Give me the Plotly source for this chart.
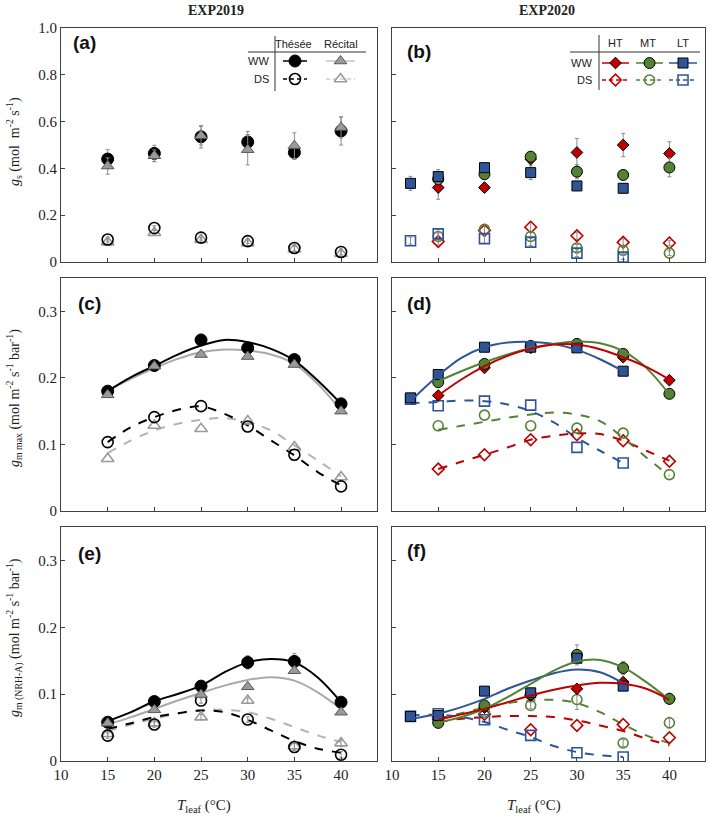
import plotly.graph_objects as go

W, H = 709, 818

# ---------------- data ----------------
T19 = [15, 20, 25, 30, 35, 40]
T20 = [15, 20, 25, 30, 35, 40]
T20_LT = [12, 15, 20, 25, 30, 35]
TC19 = [15, 17.5, 20, 22.5, 25, 27.5, 30, 32.5, 35, 37.5, 40]
TC_LT = [12, 15, 17.5, 20, 22.5, 25, 27.5, 30, 32.5, 35]

# (a) gs EXP2019
gs_thesee_ww = [0.44, 0.464, 0.535, 0.513, 0.468, 0.56]
gs_thesee_ww_err = [0.04, 0.035, 0.048, 0.045, 0.03, 0.06]
gs_recital_ww = [0.41, 0.454, 0.54, 0.48, 0.497, 0.575]
gs_recital_ww_err = [0.035, 0.025, 0.04, 0.065, 0.055, 0.045]
gs_thesee_ds = [0.096, 0.145, 0.104, 0.089, 0.06, 0.043]
gs_recital_ds = [0.085, 0.125, 0.095, 0.08, 0.055, 0.035]
gs_ds_err = [0.01, 0.01, 0.01, 0.01, 0.012, 0.012]

# (b) gs EXP2020
gs_ht_ww = [0.318, 0.318, 0.44, 0.468, 0.5, 0.464]
gs_ht_ww_err = [0.05, 0.01, 0.02, 0.06, 0.05, 0.05]
gs_mt_ww = [0.355, 0.375, 0.45, 0.386, 0.372, 0.404]
gs_mt_ww_err = [0.02, 0.02, 0.02, 0.03, 0.02, 0.04]
gs_lt_ww = [0.336, 0.365, 0.403, 0.382, 0.325, 0.315]
gs_lt_ww_err = [0.03, 0.03, 0.02, 0.03, 0.02, 0.02]
gs_ht_ds = [0.088, 0.135, 0.149, 0.112, 0.084, 0.081]
gs_mt_ds = [0.109, 0.14, 0.109, 0.06, 0.05, 0.038]
gs_lt_ds = [0.091, 0.12, 0.10, 0.085, 0.038, 0.021]
gs20_ds_err = [0.015, 0.02, 0.02, 0.015, 0.015, 0.01]

# (c) gm max EXP2019
gmax_thesee_ww = [0.18, 0.2185, 0.257, 0.245, 0.2275, 0.161]
gmax_recital_ww = [0.1745, 0.2175, 0.235, 0.232, 0.22, 0.15]
gmax_thesee_ds = [0.1035, 0.141, 0.1575, 0.127, 0.0845, 0.037]
gmax_recital_ds = [0.0785, 0.1285, 0.1235, 0.135, 0.096, 0.051]
fit_gmax_thesee_ww = [0.18, 0.201, 0.218, 0.235, 0.2485, 0.257, 0.2535, 0.2435, 0.226, 0.196, 0.161]
fit_gmax_recital_ww = [0.181, 0.1985, 0.2145, 0.2285, 0.2385, 0.2425, 0.241, 0.235, 0.221, 0.191, 0.151]
fit_gmax_thesee_ds = [0.1035, 0.126, 0.141, 0.152, 0.157, 0.146, 0.1285, 0.106, 0.0835, 0.0585, 0.0385]
fit_gmax_recital_ds = [0.087, 0.106, 0.121, 0.131, 0.137, 0.1395, 0.1335, 0.121, 0.0985, 0.076, 0.052]

# (d) gm max EXP2020
gmax_ht_ww = [0.1735, 0.215, 0.245, 0.248, 0.231, 0.1965]
gmax_mt_ww = [0.1935, 0.221, 0.248, 0.251, 0.236, 0.176]
gmax_lt_ww = [0.170, 0.205, 0.246, 0.246, 0.245, 0.21]
gmax_ht_ds = [0.063, 0.0845, 0.107, 0.1145, 0.1055, 0.0746]
gmax_mt_ds = [0.128, 0.144, 0.128, 0.1245, 0.117, 0.0547]
gmax_lt_ds = [0.168, 0.158, 0.165, 0.159, 0.0955, 0.072]
fit_gmax_ht_ww = [0.1735, 0.1975, 0.2175, 0.233, 0.244, 0.25, 0.25, 0.243, 0.231, 0.2165, 0.1975]
fit_gmax_mt_ww = [0.195, 0.21, 0.2235, 0.235, 0.245, 0.251, 0.2545, 0.252, 0.24, 0.215, 0.175]
fit_gmax_lt_ww = [0.165, 0.2035, 0.23, 0.246, 0.253, 0.254, 0.251, 0.242, 0.228, 0.21]
fit_gmax_ht_ds = [0.063, 0.074, 0.0845, 0.0955, 0.107, 0.113, 0.1165, 0.1155, 0.1055, 0.0905, 0.0756]
fit_gmax_mt_ds = [0.122, 0.128, 0.134, 0.14, 0.145, 0.148, 0.145, 0.135, 0.11, 0.0805, 0.053]
fit_gmax_lt_ds = [0.162, 0.1637, 0.166, 0.165, 0.16, 0.15, 0.133, 0.11, 0.0905, 0.072]

# (e) gm NRH-A EXP2019
gnrh_thesee_ww = [0.058, 0.089, 0.112, 0.1475, 0.149, 0.088]
gnrh_thesee_ww_err = [0.004, 0.005, 0.005, 0.01, 0.012, 0.005]
gnrh_recital_ww = [0.0566, 0.0765, 0.0994, 0.111, 0.135, 0.073]
gnrh_thesee_ds = [0.038, 0.0546, 0.0904, 0.062, 0.021, 0.0094]
gnrh_recital_ds = [0.0407, 0.0566, 0.0656, 0.0904, 0.0224, 0.0268]
gnrh_ds_err = [0.004, 0.004, 0.004, 0.004, 0.005, 0.005]
fit_gnrh_thesee_ww = [0.0596, 0.073, 0.0894, 0.1003, 0.1128, 0.1326, 0.1475, 0.1525, 0.1475, 0.125, 0.088]
fit_gnrh_recital_ww = [0.0546, 0.0656, 0.078, 0.0904, 0.1018, 0.1128, 0.1212, 0.1252, 0.1202, 0.1028, 0.078]
fit_gnrh_thesee_ds = [0.048, 0.0566, 0.0656, 0.0715, 0.0755, 0.073, 0.0616, 0.0457, 0.0298, 0.0184, 0.0124]
fit_gnrh_recital_ds = [0.0447, 0.0546, 0.0631, 0.0705, 0.0755, 0.0765, 0.073, 0.0631, 0.0507, 0.0383, 0.0283]

# (f) gm NRH-A EXP2020
gnrh_ht_ww = [0.062, 0.08, 0.098, 0.108, 0.118, 0.093]
gnrh_mt_ww = [0.057, 0.083, 0.1, 0.1587, 0.139, 0.093]
gnrh_mt_ww_err = [0.004, 0.004, 0.004, 0.015, 0.01, 0.005]
gnrh_lt_ww = [0.0667, 0.068, 0.1045, 0.102, 0.1537, 0.112]
gnrh_ht_ds = [0.0657, 0.07, 0.0468, 0.0532, 0.0547, 0.0348]
gnrh_mt_ds = [0.06, 0.073, 0.083, 0.092, 0.0269, 0.0572]
gnrh_mt_ds_err = [0.004, 0.004, 0.005, 0.015, 0.005, 0.008]
gnrh_lt_ds = [0.0667, 0.0707, 0.0617, 0.0383, 0.0124, 0.006]
fit_gnrh_ht_ww = [0.0617, 0.0697, 0.078, 0.088, 0.098, 0.1065, 0.113, 0.117, 0.1154, 0.108, 0.0915]
fit_gnrh_mt_ww = [0.0572, 0.0657, 0.078, 0.0955, 0.1154, 0.1353, 0.1488, 0.1512, 0.14, 0.118, 0.0915]
fit_gnrh_lt_ww = [0.063, 0.0707, 0.0806, 0.093, 0.108, 0.1204, 0.1313, 0.1368, 0.1328, 0.1164]
fit_gnrh_ht_ds = [0.0582, 0.0632, 0.0657, 0.0672, 0.0672, 0.0657, 0.0607, 0.0532, 0.0448, 0.0333, 0.0234]
fit_gnrh_mt_ds = [0.0632, 0.0716, 0.0796, 0.0866, 0.0905, 0.0915, 0.0866, 0.0731, 0.0547, 0.0383, 0.0269]
fit_gnrh_lt_ds = [0.068, 0.0692, 0.0657, 0.0582, 0.0468, 0.0358, 0.0224, 0.0134, 0.0085, 0.006]

x_ticks = [10, 15, 20, 25, 30, 35, 40]
y_ticks_gs = [0, 0.2, 0.4, 0.6, 0.8, 1.0]
y_ticklabels_gs = ["0", "0.2", "0.4", "0.6", "0.8", "1.0"]
y_ticks_gm = [0, 0.1, 0.2, 0.3]
y_ticklabels_gm = ["0", "0.1", "0.2", "0.3"]

# ---------------- styles ----------------
BLACK = "#000000"
GRAY_F = "#9a9a9a"
GRAY_L = "#a9a9a9"
GRAY_DS = "#b3b3b3"
RED = "#C00000"
GREEN = "#548235"
BLUE = "#2F5597"
ERR = "#8c8c8c"
SERIF = "Liberation Serif, Times New Roman, serif"
SANS = "Liberation Sans, Arial, sans-serif"


def px(x):
    return x / W


def py(y):
    return 1 - y / H


fig = go.Figure()

# panel geometry in pixels
cols = [(61, 377), (392, 705)]
rows = [(28, 262), (278, 511), (527, 761)]

panel_axes = {}
k = 0
for r, (yt, yb) in enumerate(rows):
    for c, (xl, xr) in enumerate(cols):
        k += 1
        xa = "xaxis" if k == 1 else f"xaxis{k}"
        ya = "yaxis" if k == 1 else f"yaxis{k}"
        xs = "x" if k == 1 else f"x{k}"
        ys = "y" if k == 1 else f"y{k}"
        panel_axes[(r, c)] = (xs, ys)
        fig.update_layout({
            xa: dict(domain=[px(xl), px(xr)], anchor=ys, range=[10, 43.85],
                     tickvals=x_ticks, ticks="inside", ticklen=4, tickcolor="#404040",
                     showticklabels=(r == 2), showline=True, linecolor="#404040",
                     linewidth=1, mirror=True, showgrid=False, zeroline=False,
                     automargin=False,
                     tickfont=dict(family=SERIF, size=15, color="#222")),
            ya: dict(domain=[py(yb), py(yt)], anchor=xs,
                     range=[0, 1] if r == 0 else [0, 0.35],
                     tickvals=y_ticks_gs if r == 0 else y_ticks_gm,
                     ticktext=y_ticklabels_gs if r == 0 else y_ticklabels_gm,
                     ticks="inside", ticklen=4, tickcolor="#404040",
                     showticklabels=(c == 0), showline=True, linecolor="#404040",
                     linewidth=1, mirror=True, showgrid=False, zeroline=False,
                     automargin=False,
                     tickfont=dict(family=SERIF, size=15, color="#222")),
        })

MK = {
    "thesee_ww": dict(symbol="circle", size=12, color=BLACK, line=dict(color=BLACK, width=1)),
    "recital_ww": dict(symbol="triangle-up", size=11, color=GRAY_F, line=dict(color="#595959", width=1)),
    "thesee_ds": dict(symbol="circle-open", size=11, color=BLACK, line=dict(color=BLACK, width=1.6)),
    "recital_ds": dict(symbol="triangle-up-open", size=11, color=GRAY_F, line=dict(color=GRAY_F, width=1.6)),
    "ht_ww": dict(symbol="diamond", size=9, color=RED, line=dict(color=BLACK, width=1)),
    "mt_ww": dict(symbol="circle", size=11, color=GREEN, line=dict(color=BLACK, width=1)),
    "lt_ww": dict(symbol="square", size=10, color=BLUE, line=dict(color=BLACK, width=1)),
    "ht_ds": dict(symbol="diamond-open", size=9, color=RED, line=dict(color=RED, width=1.6)),
    "mt_ds": dict(symbol="circle-open", size=10, color=GREEN, line=dict(color=GREEN, width=1.6)),
    "lt_ds": dict(symbol="square-open", size=10, color=BLUE, line=dict(color=BLUE, width=1.6)),
}


def pts(rc, x, y, key, err=None):
    xs, ys = panel_axes[rc]
    kw = {}
    if err is not None:
        kw["error_y"] = dict(type="data", array=err, color=ERR, thickness=1, width=2)
    fig.add_trace(go.Scatter(x=x, y=y, mode="markers", marker=MK[key], xaxis=xs, yaxis=ys,
                             showlegend=False, hoverinfo="skip", **kw))


def fit(rc, x, y, color, dash):
    xs, ys = panel_axes[rc]
    fig.add_trace(go.Scatter(x=x, y=y, mode="lines", line=dict(color=color, width=2, dash=dash,
                                                                shape="spline", smoothing=1.0),
                             xaxis=xs, yaxis=ys, showlegend=False, hoverinfo="skip"))


# (a)
pts((0, 0), T19, gs_recital_ds, "recital_ds", gs_ds_err)
pts((0, 0), T19, gs_thesee_ds, "thesee_ds", gs_ds_err)
pts((0, 0), T19, gs_thesee_ww, "thesee_ww", gs_thesee_ww_err)
pts((0, 0), T19, gs_recital_ww, "recital_ww", gs_recital_ww_err)

# (b)
pts((0, 1), T20, gs_ht_ds, "ht_ds", gs20_ds_err)
pts((0, 1), T20, gs_mt_ds, "mt_ds", gs20_ds_err)
pts((0, 1), T20_LT, gs_lt_ds, "lt_ds", gs20_ds_err)
pts((0, 1), T20, gs_ht_ww, "ht_ww", gs_ht_ww_err)
pts((0, 1), T20, gs_mt_ww, "mt_ww", gs_mt_ww_err)
pts((0, 1), T20_LT, gs_lt_ww, "lt_ww", gs_lt_ww_err)

# (c)
fit((1, 0), TC19, fit_gmax_recital_ds, GRAY_DS, "dash")
fit((1, 0), TC19, fit_gmax_thesee_ds, BLACK, "dash")
fit((1, 0), TC19, fit_gmax_recital_ww, GRAY_L, "solid")
fit((1, 0), TC19, fit_gmax_thesee_ww, BLACK, "solid")
pts((1, 0), T19, gmax_recital_ds, "recital_ds")
pts((1, 0), T19, gmax_thesee_ds, "thesee_ds")
pts((1, 0), T19, gmax_thesee_ww, "thesee_ww")
pts((1, 0), T19, gmax_recital_ww, "recital_ww")

# (d)
fit((1, 1), TC19, fit_gmax_ht_ds, RED, "dash")
fit((1, 1), TC19, fit_gmax_mt_ds, GREEN, "dash")
fit((1, 1), TC_LT, fit_gmax_lt_ds, BLUE, "dash")
pts((1, 1), T20, gmax_ht_ds, "ht_ds")
pts((1, 1), T20, gmax_mt_ds, "mt_ds")
pts((1, 1), T20_LT, gmax_lt_ds, "lt_ds")
pts((1, 1), T20, gmax_ht_ww, "ht_ww")
pts((1, 1), T20, gmax_mt_ww, "mt_ww")
pts((1, 1), T20_LT, gmax_lt_ww, "lt_ww")
fit((1, 1), TC_LT, fit_gmax_lt_ww, BLUE, "solid")
fit((1, 1), TC19, fit_gmax_mt_ww, GREEN, "solid")
fit((1, 1), TC19, fit_gmax_ht_ww, RED, "solid")

# (e)
fit((2, 0), TC19, fit_gnrh_recital_ds, GRAY_DS, "dash")
fit((2, 0), TC19, fit_gnrh_thesee_ds, BLACK, "dash")
fit((2, 0), TC19, fit_gnrh_recital_ww, GRAY_L, "solid")
fit((2, 0), TC19, fit_gnrh_thesee_ww, BLACK, "solid")
pts((2, 0), T19, gnrh_recital_ds, "recital_ds", gnrh_ds_err)
pts((2, 0), T19, gnrh_thesee_ds, "thesee_ds", gnrh_ds_err)
pts((2, 0), T19, gnrh_thesee_ww, "thesee_ww", gnrh_thesee_ww_err)
pts((2, 0), T19, gnrh_recital_ww, "recital_ww")

# (f)
fit((2, 1), TC19, fit_gnrh_ht_ds, RED, "dash")
fit((2, 1), TC19, fit_gnrh_mt_ds, GREEN, "dash")
fit((2, 1), TC_LT, fit_gnrh_lt_ds, BLUE, "dash")
pts((2, 1), T20, gnrh_ht_ds, "ht_ds")
pts((2, 1), T20, gnrh_mt_ds, "mt_ds", gnrh_mt_ds_err)
pts((2, 1), T20_LT, gnrh_lt_ds, "lt_ds")
pts((2, 1), T20, gnrh_ht_ww, "ht_ww")
pts((2, 1), T20, gnrh_mt_ww, "mt_ww", gnrh_mt_ww_err)
pts((2, 1), T20_LT, gnrh_lt_ww, "lt_ww")
fit((2, 1), TC_LT, fit_gnrh_lt_ww, BLUE, "solid")
fit((2, 1), TC19, fit_gnrh_mt_ww, GREEN, "solid")
fit((2, 1), TC19, fit_gnrh_ht_ww, RED, "solid")

# ---------------- overlay axis in pixel units for legend glyphs ----------------
fig.update_layout(
    xaxis7=dict(domain=[0, 1], range=[0, W], visible=False, fixedrange=True, anchor="y7",
                automargin=False),
    yaxis7=dict(domain=[0, 1], range=[H, 0], visible=False, fixedrange=True, anchor="x7",
                automargin=False),
)


def glyph(x0, x1, y, color, dash, key, lw=1.5):
    fig.add_trace(go.Scatter(x=[x0, x1], y=[y, y], mode="lines",
                             line=dict(color=color, width=lw, dash=dash),
                             xaxis="x7", yaxis="y7", showlegend=False, hoverinfo="skip"))
    fig.add_trace(go.Scatter(x=[(x0 + x1) / 2], y=[y], mode="markers", marker=MK[key],
                             xaxis="x7", yaxis="y7", showlegend=False, hoverinfo="skip"))


# legend (a)
glyph(283, 307, 61, BLACK, "solid", "thesee_ww")
glyph(326, 355, 61, GRAY_L, "solid", "recital_ww", 1)
glyph(283, 307, 79, BLACK, "4px,3px", "thesee_ds")
glyph(326, 355, 79, GRAY_DS, "4px,3px", "recital_ds", 1)
# legend (b)
glyph(602, 629, 63, RED, "solid", "ht_ww")
glyph(636, 663, 63, GREEN, "solid", "mt_ww")
glyph(669, 697, 63, BLUE, "solid", "lt_ww")
glyph(602, 629, 80, RED, "4px,3px", "ht_ds")
glyph(636, 663, 80, GREEN, "4px,3px", "mt_ds")
glyph(669, 697, 80, BLUE, "4px,3px", "lt_ds")

shapes = [
    dict(type="line", xref="paper", yref="paper", x0=px(275), x1=px(275), y0=py(36), y1=py(91),
         line=dict(color="#333", width=1)),
    dict(type="line", xref="paper", yref="paper", x0=px(248), x1=px(366), y0=py(52), y1=py(52),
         line=dict(color="#333", width=1)),
    dict(type="line", xref="paper", yref="paper", x0=px(599), x1=px(599), y0=py(35), y1=py(90),
         line=dict(color="#333", width=1)),
    dict(type="line", xref="paper", yref="paper", x0=px(570), x1=px(700), y0=py(52), y1=py(52),
         line=dict(color="#333", width=1)),
]

ann = []


def text(x, y, s, size, family, xanchor="center", angle=0, color="#222"):
    ann.append(dict(x=px(x), y=py(y), xref="paper", yref="paper", text=s, showarrow=False,
                    xanchor=xanchor, yanchor="middle", textangle=angle,
                    font=dict(family=family, size=size, color=color)))


text(216, 10, "<b>EXP2019</b>", 14, SERIF)
text(547, 10, "<b>EXP2020</b>", 14, SERIF)

text(293, 44, "Thésée", 11, SANS)
text(341, 44, "Récital", 11, SANS)
text(271, 61, "WW", 11, SANS, "right")
text(271, 79, "DS", 11, SANS, "right")
text(615, 43, "HT", 11, SANS)
text(648, 43, "MT", 11, SANS)
text(683, 43, "LT", 11, SANS)
text(594, 63, "WW", 11, SANS, "right")
text(594, 80, "DS", 11, SANS, "right")

text(71, 43, "<b>(a)</b>", 19, SANS, "left", color="#111")
text(405, 52, "<b>(b)</b>", 19, SANS, "left", color="#111")
text(76, 303, "<b>(c)</b>", 19, SANS, "left", color="#111")
text(405, 303, "<b>(d)</b>", 19, SANS, "left", color="#111")
text(76, 553, "<b>(e)</b>", 19, SANS, "left", color="#111")
text(405, 550, "<b>(f)</b>", 19, SANS, "left", color="#111")

text(14, 142, "<i>g</i><sub>s</sub> (mol  m<sup>-2</sup> s<sup>-1</sup>)", 14, SERIF, angle=-90)
text(14, 398, "<i>g</i><sub>m max</sub> (mol m<sup>-2</sup> s<sup>-1</sup> bar<sup>-1</sup>)", 14, SERIF, angle=-90)
text(14, 638, "<i>g</i><sub>m (NRH-A)</sub> (mol m<sup>-2</sup> s<sup>-1</sup> bar<sup>-1</sup>)", 14, SERIF, angle=-90)

text(204, 806, "<i>T</i><sub>leaf</sub> (°C)", 15, SERIF)
text(534, 806, "<i>T</i><sub>leaf</sub> (°C)", 15, SERIF)

fig.update_layout(
    width=W, height=H, margin=dict(l=0, r=0, t=0, b=0, autoexpand=False),
    paper_bgcolor="white", plot_bgcolor="rgba(0,0,0,0)",
    showlegend=False, shapes=shapes, annotations=ann,
)

fig.write_html("out.html", config={"displayModeBar": False},
               post_script="document.body.style.margin='0';document.body.style.overflow='hidden';")
